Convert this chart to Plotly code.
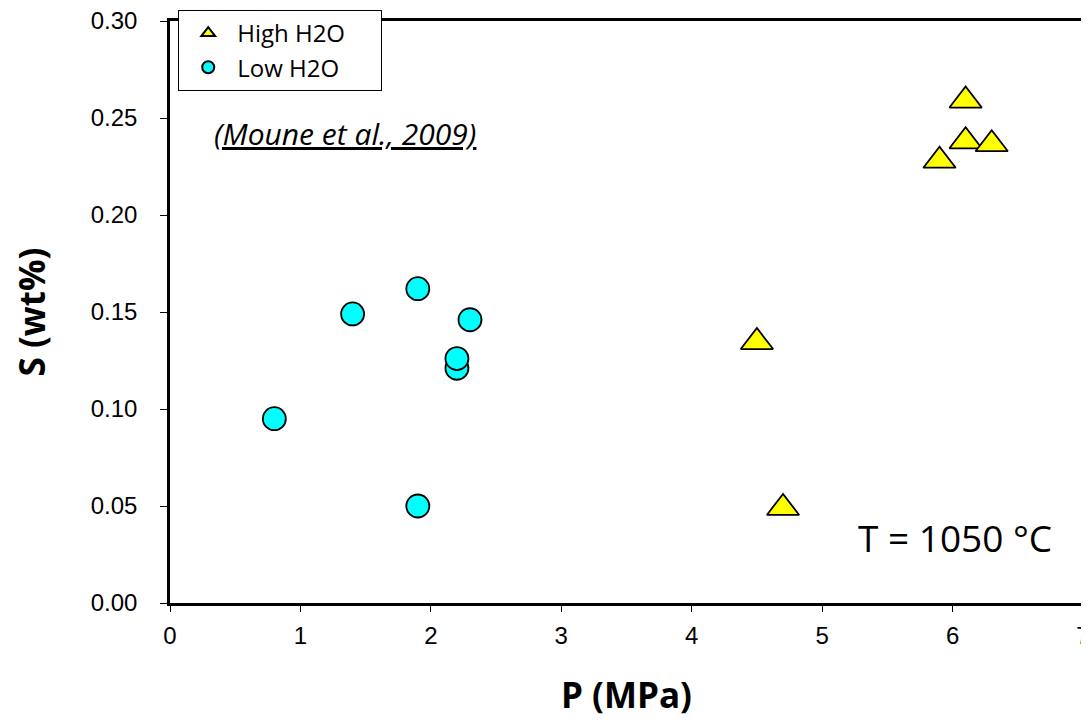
import plotly.graph_objects as go

high_p = [6.1, 6.1, 6.3, 5.9, 4.5, 4.7]
high_s = [0.259, 0.238, 0.2365, 0.228, 0.1345, 0.049]
low_p = [0.8, 1.4, 1.9, 2.3, 2.2, 2.2, 1.9]
low_s = [0.095, 0.149, 0.162, 0.146, 0.121, 0.126, 0.050]

x_ticks = [0, 1, 2, 3, 4, 5, 6, 7]
y_ticks = [0.0, 0.05, 0.10, 0.15, 0.20, 0.25, 0.30]
y_tick_labels = ["0.00", "0.05", "0.10", "0.15", "0.20", "0.25", "0.30"]

CAL = "Open Sans, Lato, sans-serif"
ARIAL = "Liberation Sans, Arial, sans-serif"
PAD = "\u00a0" * 5

fig = go.Figure()
fig.add_trace(go.Scatter(
    x=high_p, y=high_s, mode="markers", name="High H2O" + PAD,
    marker=dict(symbol="triangle-up", size=28, color="#FFFF00",
                line=dict(color="black", width=1.8)),
))
fig.add_trace(go.Scatter(
    x=low_p, y=low_s, mode="markers", name="Low H2O" + PAD,
    marker=dict(symbol="circle", size=23, color="#00FFFF",
                line=dict(color="black", width=1.8)),
))

fig.add_annotation(x=1.34, y=0.242, xref="x", yref="y",
                   text="<i><u>(Moune et al., 2009)</u></i>", showarrow=False,
                   font=dict(family=CAL, size=30, color="black"))
fig.add_annotation(x=6.78, y=0.034, xref="x", yref="y", xanchor="right",
                   text="T = 1050 °C", showarrow=False,
                   font=dict(family=CAL, size=37, color="black"))

fig.update_layout(
    width=1089, height=722,
    margin=dict(l=162, r=14, t=13, b=127, autoexpand=False),
    plot_bgcolor="white", paper_bgcolor="white",
    font=dict(family=ARIAL, size=24, color="black"),
    showlegend=True,
    legend=dict(x=0.009, y=1.019, xanchor="left", yanchor="top",
                bgcolor="white", bordercolor="black", borderwidth=1,
                font=dict(family=CAL, size=24),
                itemsizing="constant", itemwidth=48,
                tracegroupgap=0, traceorder="normal"),
    xaxis=dict(range=[0, 7], tickvals=x_ticks, showgrid=False, zeroline=False,
               showline=True, linecolor="black", linewidth=2.5, mirror=True,
               ticks="outside", ticklen=6, tickcolor="black", tickwidth=1,
               ticklabelstandoff=3, ticklabeloverflow="allow",
               tickfont=dict(family=ARIAL, size=24),
               title=dict(text="<b>P (MPa)</b>", standoff=36,
                          font=dict(family=CAL, size=35))),
    yaxis=dict(range=[0, 0.30], tickvals=y_ticks, ticktext=y_tick_labels,
               showgrid=False, zeroline=False,
               showline=True, linecolor="black", linewidth=2.5, mirror=True,
               ticks="outside", ticklen=7, tickcolor="black", tickwidth=1,
               ticklabelstandoff=18, ticklabeloverflow="allow",
               tickfont=dict(family=ARIAL, size=24),
               title=dict(text="<b>S (wt%)</b>", standoff=35,
                          font=dict(family=CAL, size=35))),
)

fig.write_html("out.html")
